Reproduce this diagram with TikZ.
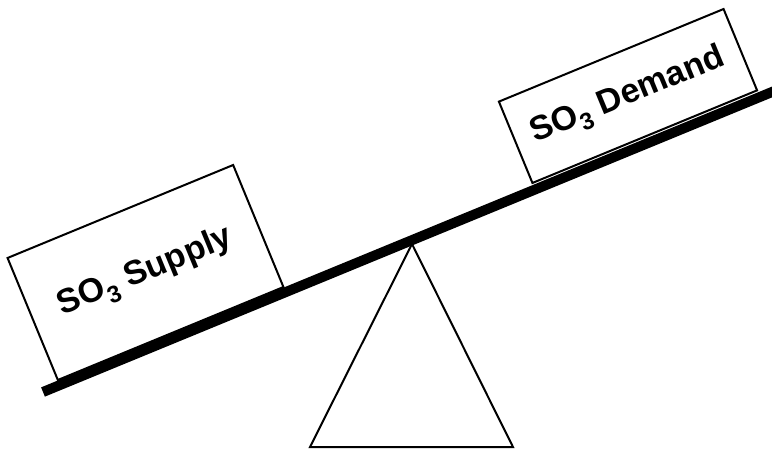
\documentclass[tikz,border=0pt]{standalone}
\usepackage{fontspec}
\setmainfont{Liberation Sans}
\begin{document}
\begin{tikzpicture}[x=1pt,y=-1pt,
  box/.style={draw=black, line width=2pt, fill=white, rotate=22.4, inner sep=0pt,
    font=\fontsize{34}{40}\selectfont\bfseries, align=center},
  beam/.style={line width=10pt, line cap=butt},
  fulcrum/.style={draw=black, line width=2pt, line join=miter}]
\useasboundingbox (0,0) rectangle (772,449);
% fulcrum
\coordinate (apex) at (412,244);
\coordinate (bl) at (310,447);
\coordinate (br) at (513,447);
\draw[fulcrum] (apex) -- (bl) -- (br) -- cycle;
% beam
\coordinate (L) at (43,392);
\coordinate (R) at (780,88.7);
\draw[beam] (L) -- (R);
% boxes
\node[box, minimum width=244pt, minimum height=132pt] (supply) at (145.5,272.5) {SO\textsubscript{3} Supply};
\node[box, minimum width=243pt, minimum height=88pt] (demand) at (628,96) {SO\textsubscript{3} Demand};
\end{tikzpicture}
\end{document}
